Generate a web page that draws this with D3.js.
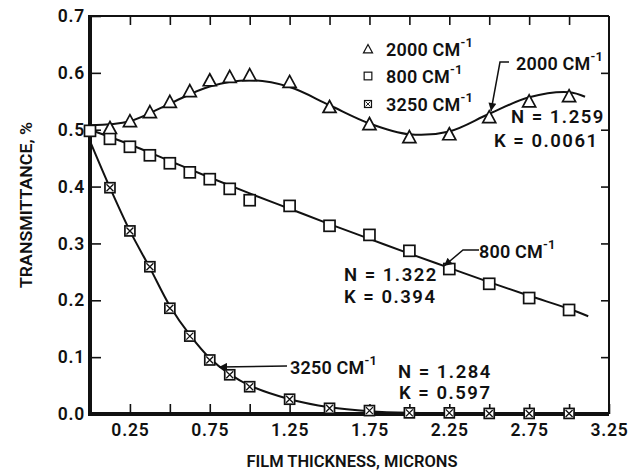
<!DOCTYPE html>
<html><head><meta charset="utf-8">
<script src="https://cdn.jsdelivr.net/npm/d3@7"></script>
<style>
html,body{margin:0;padding:0;background:#fff;}
svg text{font-family:Roboto,"DejaVu Sans",sans-serif;font-weight:600;fill:#111;}
</style></head>
<body><svg id="c" width="636" height="473"></svg>
<script>
// ---- data ----
const xTickLabels = ["0.25","0.75","1.25","1.75","2.25","2.75","3.25"];
const yTickLabels = ["0.0","0.1","0.2","0.3","0.4","0.5","0.6","0.7"];

const pts2000X = [0.125,0.25,0.375,0.5,0.625,0.75,0.875,1.0,1.25,1.5,1.75,2.0,2.25,2.5,2.75,3.0];
const pts2000Y = [0.503,0.515,0.531,0.549,0.568,0.587,0.593,0.596,0.584,0.540,0.510,0.487,0.492,0.522,0.550,0.559];
const fit2000X = [0,0.25,0.5,0.75,1.0,1.25,1.5,1.75,2.0,2.25,2.5,2.75,3.0,3.1];
const fit2000Y = [0.508,0.515,0.546,0.576,0.587,0.575,0.543,0.511,0.492,0.497,0.528,0.557,0.566,0.558];

const pts800X = [0,0.125,0.25,0.375,0.5,0.625,0.75,0.875,1.0,1.25,1.5,1.75,2.0,2.25,2.5,2.75,3.0];
const pts800Y = [0.498,0.484,0.470,0.455,0.441,0.425,0.413,0.396,0.376,0.366,0.331,0.315,0.287,0.255,0.229,0.204,0.183];
const fit800X = [0,0.25,0.5,0.75,1.0,1.25,1.5,1.75,2.0,2.25,2.5,2.75,3.0,3.12];
const fit800Y = [0.500,0.474,0.445,0.416,0.388,0.361,0.334,0.308,0.282,0.257,0.232,0.208,0.185,0.172];

const pts3250X = [0.125,0.25,0.375,0.5,0.625,0.75,0.875,1.0,1.25,1.5,1.75,2.0,2.25,2.5,2.75,3.0];
const pts3250Y = [0.398,0.322,0.259,0.186,0.137,0.095,0.069,0.048,0.026,0.010,0.006,0.002,0.002,0.001,0.001,0.001];
const fit3250X = [0,0.125,0.25,0.375,0.5,0.625,0.75,0.875,1.0,1.25,1.5,1.75,2.0,2.5,3.1];
const fit3250Y = [0.480,0.398,0.322,0.257,0.190,0.139,0.098,0.070,0.050,0.026,0.012,0.005,0.002,0.0005,0.0];

const legendLabels = ["2000", "800", "3250"];

// ---- layout ----
const svg = d3.select("#c");
const x = d3.scaleLinear().domain([0,3.25]).range([90,609]);
const y = d3.scaleLinear().domain([0,0.7]).range([414,16]);
const ink = "#111";

const g = svg.append("g");

// frame
g.append("line").attr("x1",x(0)).attr("x2",x(3.25)).attr("y1",y(0.7)).attr("y2",y(0.7)).attr("stroke",ink).attr("stroke-width",2.2);
g.append("line").attr("x1",x(3.25)).attr("x2",x(3.25)).attr("y1",y(0.7)).attr("y2",y(0)).attr("stroke",ink).attr("stroke-width",2);
g.append("line").attr("x1",x(0)).attr("x2",x(0)).attr("y1",y(0.7)-1).attr("y2",y(0)+2).attr("stroke",ink).attr("stroke-width",4);
g.append("line").attr("x1",x(0)-2).attr("x2",x(3.25)).attr("y1",y(0)).attr("y2",y(0)).attr("stroke",ink).attr("stroke-width",4);

// axes via d3 axis generators
const xTickVals = d3.range(1,14).map(i=>i*0.25);
const xb = d3.axisBottom(x).tickValues(xTickVals).tickSizeInner(-10).tickSizeOuter(0)
  .tickFormat(d=>{const s=d3.format(".2f")(d);return xTickLabels.includes(s)?s:"";}).tickPadding(13);
const xa = g.append("g").attr("transform",`translate(0,${y(0)})`).call(xb);
xa.select(".domain").remove();
xa.selectAll(".tick line").attr("stroke",ink).attr("stroke-width",1.6);
xa.selectAll(".tick text").attr("font-size",17.5).attr("letter-spacing",0.8).attr("fill",ink).attr("dy","0.5em");

const xt = d3.axisTop(x).tickValues(xTickVals.slice(0,12)).tickSizeInner(-9).tickSizeOuter(0).tickFormat("");
const xta = g.append("g").attr("transform",`translate(0,${y(0.7)})`).call(xt);
xta.select(".domain").remove();
xta.selectAll(".tick line").attr("stroke",ink).attr("stroke-width",1.6);

const yTickVals = d3.range(0,8).map(i=>i*0.1);
const yl = d3.axisLeft(y).tickValues(yTickVals).tickSizeInner(-11).tickSizeOuter(0)
  .tickFormat((d,i)=>yTickLabels[i]).tickPadding(5);
const ya = g.append("g").attr("transform",`translate(${x(0)},0)`).call(yl);
ya.select(".domain").remove();
ya.selectAll(".tick line").attr("stroke",ink).attr("stroke-width",1.6);
ya.selectAll(".tick text").attr("font-size",17.5).attr("letter-spacing",0.8).attr("fill",ink);

const yr = d3.axisRight(y).tickValues(yTickVals.slice(1,7)).tickSizeInner(-8).tickSizeOuter(0).tickFormat("");
const yra = g.append("g").attr("transform",`translate(${x(3.25)},0)`).call(yr);
yra.select(".domain").remove();
yra.selectAll(".tick line").attr("stroke",ink).attr("stroke-width",1.6);

// axis titles
svg.append("text").attr("x",352).attr("y",467).attr("text-anchor","middle").attr("font-size",16.5)
  .attr("textLength",211).attr("lengthAdjust","spacingAndGlyphs").text("FILM THICKNESS, MICRONS");
svg.append("text").attr("transform","translate(32,205) rotate(-90)").attr("text-anchor","middle").attr("font-size",17)
  .attr("textLength",166).attr("lengthAdjust","spacingAndGlyphs").text("TRANSMITTANCE, %");

// curves
const line = d3.line().x(d=>x(d[0])).y(d=>y(d[1])).curve(d3.curveCatmullRom.alpha(0.5));
function zip(a,b){return a.map((v,i)=>[v,b[i]]);}
[[fit2000X,fit2000Y],[fit800X,fit800Y],[fit3250X,fit3250Y]].forEach(([a,b])=>{
  g.append("path").datum(zip(a,b)).attr("d",line).attr("fill","none").attr("stroke",ink).attr("stroke-width",2);
});

// markers
function tri(sel){sel.append("path").attr("d","M0,-6.5 L6.5,5.5 L-6.5,5.5 Z").attr("fill","#fff").attr("stroke",ink).attr("stroke-width",1.7);}
function sq(sel){sel.append("rect").attr("x",-5.5).attr("y",-5.5).attr("width",11).attr("height",11).attr("fill","#fff").attr("stroke",ink).attr("stroke-width",1.7);}
function crs(sel){sel.append("rect").attr("x",-5).attr("y",-5).attr("width",10).attr("height",10).attr("fill","#fff").attr("stroke",ink).attr("stroke-width",1.7);
  sel.append("path").attr("d","M-3.5,-3.5 L3.5,3.5 M3.5,-3.5 L-3.5,3.5").attr("stroke",ink).attr("stroke-width",1.3);}

function drawPts(xs,ys,fn){
  g.append("g").selectAll("g").data(zip(xs,ys)).join("g")
    .attr("transform",d=>`translate(${x(d[0])},${y(d[1])})`).each(function(){fn(d3.select(this));});
}
drawPts(pts800X,pts800Y,sq);
drawPts(pts3250X,pts3250Y,crs);
drawPts(pts2000X,pts2000Y,tri);

// legend
const lg = svg.append("g");
const legFns=[tri,sq,crs];
const legY=[56,83,111];
legendLabels.forEach((t,i)=>{
  const m = lg.append("g").call(s=>{legFns[i](s);});
  m.attr("transform",`translate(368,${legY[i]-7}) scale(0.7)`);
  const tx = lg.append("text").attr("x",386).attr("y",legY[i]).attr("font-size",18).attr("letter-spacing",0.2);
  tx.append("tspan").text(t+" CM");
  tx.append("tspan").attr("dy",-9).attr("font-size",13).text("-1");
});

// annotations
function cmLabel(xp,yp,num){
  const tx = svg.append("text").attr("x",xp).attr("y",yp).attr("font-size",18).attr("letter-spacing",0.2);
  tx.append("tspan").text(num+" CM");
  tx.append("tspan").attr("dy",-9).attr("font-size",13).text("-1");
}
function txt(xp,yp,s){svg.append("text").attr("x",xp).attr("y",yp).attr("font-size",18.5).attr("letter-spacing",1.5).text(s);}

cmLabel(516,70,"2000");
txt(511,123,"N = 1.259");
txt(494,147,"K = 0.0061");
cmLabel(479,258,"800");
txt(344,281,"N = 1.322");
txt(344,303,"K = 0.394");
cmLabel(290,374,"3250");
txt(398,378,"N = 1.284");
txt(399,399,"K = 0.597");

// leaders with arrowheads
svg.append("defs").append("marker").attr("id","ah").attr("viewBox","0 0 10 10").attr("refX",10).attr("refY",5)
  .attr("markerWidth",11).attr("markerHeight",8).attr("markerUnits","userSpaceOnUse").attr("orient","auto")
  .append("path").attr("d","M0,0 L10,5 L0,10 Z").attr("fill",ink);
function leader(pts){
  svg.append("path").attr("d",d3.line()(pts)).attr("fill","none").attr("stroke",ink).attr("stroke-width",1.5).attr("marker-end","url(#ah)");
}
leader([[509,62],[500,62],[491,111]]);
leader([[479,250],[463,250],[444,266]]);
leader([[287,366],[219,367]]);
</script></body></html>
